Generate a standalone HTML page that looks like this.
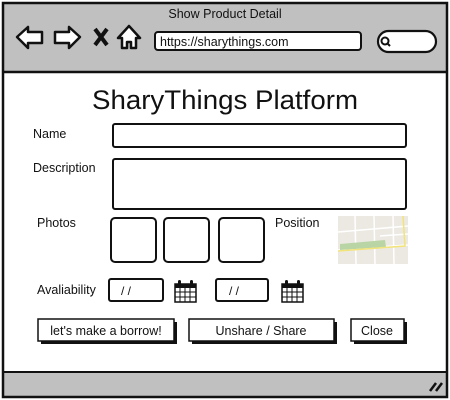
<!DOCTYPE html>
<html><head><meta charset="utf-8"><style>
html,body{margin:0;padding:0;background:#fff;}
svg{display:block;font-family:"Liberation Sans",sans-serif;}
</style></head><body>
<svg width="450" height="400" viewBox="0 0 450 400" xmlns="http://www.w3.org/2000/svg">
<rect x="0" y="0" width="450" height="400" fill="#fff"/>
<rect x="3" y="3" width="444" height="69" fill="#c0c0c0"/>
<rect x="3" y="372" width="444" height="25" fill="#c0c0c0"/>
<rect x="3" y="3" width="444" height="394" fill="none" stroke="#111" stroke-width="2.5"/>
<line x1="3" y1="72" x2="447" y2="72" stroke="#111" stroke-width="2.5"/>
<line x1="3" y1="372" x2="447" y2="372" stroke="#111" stroke-width="2"/>
<text x="225" y="18" font-size="12.5" text-anchor="middle" fill="#111">Show Product Detail</text>
<g fill="#fff" stroke="#111" stroke-width="2.5" stroke-linejoin="round">
<path d="M17 37 L28 27 L28 32 L42 32 L42 43 L28 43 L28 48 Z"/>
<path d="M80 37 L69 27 L69 32 L55 32 L55 43 L69 43 L69 48 Z"/>
<path d="M118 38 L129 26 L140 38 L136 38 L136 48 L131 48 L131 42 L127 42 L127 48 L122 48 L122 38 Z"/>
</g>
<path d="M95 29 L107 45 M107 29 L95 45" stroke="#111" stroke-width="4"/>
<rect x="155" y="32" width="206" height="18" rx="3" fill="#fff" stroke="#111" stroke-width="2"/>
<text x="160" y="46" font-size="12.5" fill="#111">https://sharythings.com</text>
<rect x="378" y="31" width="58" height="21" rx="10.5" fill="#fff" stroke="#111" stroke-width="2.2"/>
<circle cx="385" cy="41" r="3.5" fill="none" stroke="#111" stroke-width="2"/>
<line x1="387.5" y1="43.5" x2="390" y2="46" stroke="#111" stroke-width="2"/>
<text x="225" y="109" font-size="27" text-anchor="middle" fill="#111" textLength="266" lengthAdjust="spacingAndGlyphs">SharyThings Platform</text>
<g font-size="12.5" fill="#111">
<text x="33" y="138">Name</text>
<text x="33" y="172">Description</text>
<text x="37" y="227">Photos</text>
<text x="275" y="227">Position</text>
<text x="37" y="294">Avaliability</text>
</g>
<g fill="#fff" stroke="#111" stroke-width="2">
<rect x="113" y="124" width="293" height="23" rx="2"/>
<rect x="113" y="159" width="293" height="50" rx="2"/>
<rect x="111" y="218" width="45" height="44" rx="4"/>
<rect x="164" y="218" width="45" height="44" rx="4"/>
<rect x="219" y="218" width="45" height="44" rx="4"/>
<rect x="109" y="279" width="54" height="22" rx="2"/>
<rect x="216" y="279" width="52" height="22" rx="2"/>
</g>
<text x="121" y="295" font-size="12" fill="#111">/ /</text>
<text x="229" y="295" font-size="12" fill="#111">/ /</text>
<rect x="338" y="216" width="70" height="48" fill="#ece9e2"/>
<g stroke="#fff" stroke-width="1.5">
<line x1="338" y1="232" x2="408" y2="226"/><line x1="338" y1="250" x2="408" y2="245"/>
<line x1="355" y1="216" x2="356" y2="264"/><line x1="374" y1="216" x2="375" y2="264"/>
<line x1="393" y1="216" x2="394" y2="264"/><line x1="380" y1="236" x2="408" y2="234"/>
</g>
<path d="M340 244 L385 240 L386 247 L340 250 Z" fill="#b9d5a6"/>
<path d="M338 251 L405 246 L403 216" stroke="#f2e47a" stroke-width="1.5" fill="none"/>
<g>
<rect x="175" y="284" width="21" height="18" fill="#fff" stroke="#111" stroke-width="1.5"/>
<rect x="175" y="284" width="21" height="4" fill="#111"/>
<path d="M175 292H196M175 297H196M180 288V302M185 288V302M190 288V302" stroke="#111" stroke-width="1"/>
<rect x="178" y="280" width="3" height="6" rx="1.5" fill="#111"/><rect x="190" y="280" width="3" height="6" rx="1.5" fill="#111"/>
</g>
<g transform="translate(107,0)">
<rect x="175" y="284" width="21" height="18" fill="#fff" stroke="#111" stroke-width="1.5"/>
<rect x="175" y="284" width="21" height="4" fill="#111"/>
<path d="M175 292H196M175 297H196M180 288V302M185 288V302M190 288V302" stroke="#111" stroke-width="1"/>
<rect x="178" y="280" width="3" height="6" rx="1.5" fill="#111"/><rect x="190" y="280" width="3" height="6" rx="1.5" fill="#111"/>
</g>
<g fill="#111">
<rect x="41" y="322" width="136" height="22"/>
<rect x="192" y="322" width="145" height="22"/>
<rect x="354" y="322" width="53" height="22"/>
</g>
<g fill="#fff" stroke="#111" stroke-width="1.5">
<rect x="38" y="319" width="136" height="22"/>
<rect x="189" y="319" width="145" height="22"/>
<rect x="351" y="319" width="53" height="22"/>
</g>
<g font-size="12.5" fill="#111" text-anchor="middle">
<text x="106" y="335">let's make a borrow!</text>
<text x="261" y="335">Unshare / Share</text>
<text x="377" y="335">Close</text>
</g>
<path d="M430 391 L436 383 M436 391 L442 383" stroke="#111" stroke-width="2.5"/>
</svg>
</body></html>
